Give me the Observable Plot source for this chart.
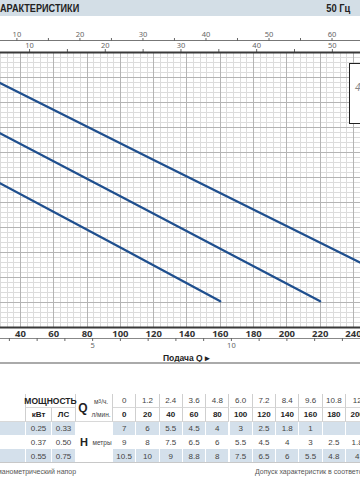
<!DOCTYPE html>
<html><head><meta charset="utf-8">
<script src="https://cdn.jsdelivr.net/npm/d3@7"></script>
<script src="https://cdn.jsdelivr.net/npm/@observablehq/plot@0.6"></script>
<style>
html,body{margin:0;padding:0;background:#fff;}
#page{position:relative;width:360px;height:480px;overflow:hidden;font-family:"Liberation Sans",Arial,sans-serif;color:#333;}
.a{position:absolute;white-space:nowrap;}
.cell{position:absolute;box-sizing:border-box;display:flex;align-items:center;justify-content:center;font-size:8px;color:#444;white-space:nowrap;}
svg{overflow:hidden;}
</style></head>
<body><div id="page">
  <div class="a" style="left:0;top:0;width:360px;height:16px;background:#d3dee6;"></div>
  <div class="a" style="left:0;top:2px;font-size:11px;font-weight:bold;color:#222;transform:scaleX(0.83);transform-origin:left top;">АРАКТЕРИСТИКИ</div>
  <div class="a" style="right:10px;top:2px;font-size:11px;font-weight:bold;color:#222;transform:scaleX(0.85);transform-origin:right top;">50 Гц</div>
  <div class="a" style="left:0;top:40px;width:360px;height:1px;background:#777;"></div>
  <div id="us" class="a" style="left:0;top:22px;"></div>
  <div id="imp" class="a" style="left:0;top:33px;"></div>
  <div id="main" class="a" style="left:0;top:44px;"></div>
  <div class="a" style="left:349px;top:63px;width:30px;height:59px;border:1px solid #222;background:#fff;"></div>
  <div class="a" style="left:355px;top:82px;font-size:10px;font-style:italic;color:#888;">4</div>
  <div class="a" style="left:0;top:338px;width:360px;height:1px;background:#888;"></div>
  <div id="m3h" class="a" style="left:0;top:336px;"></div>
  <div class="a" style="left:163px;top:353px;font-size:8.5px;font-weight:bold;color:#222;">Подача Q &#9656;</div>
  <div class="a" style="left:0;top:362px;width:360px;height:2px;background:#aaa;"></div>
  <div class="a" style="left:-3px;top:468px;font-size:7px;color:#555;">манометрический напор</div>
  <div class="a" style="left:255px;top:468px;font-size:7px;color:#555;">Допуск характеристик в соответствии с EN ISO 9906</div>
</div>
<script>
// unit conversions (litres per minute per unit)
const LPM_PER_USGPM = 3.785, LPM_PER_IMPGPM = 4.546, LPM_PER_M3H = 1000 / 60;
// visible flow span of the cropped chart (l/min)
const qVisible = [28.0, 244.2];
const hDomain = [0, 11];

// curves
const powerKW = ["0.25", "0.37", "0.55"];
const powerHP = ["0.33", "0.50", "0.75"];
const curveQ = [[0, 100, 160], [0, 100, 220], [0, 120, 250]];
const curveH = [[6.75, 3.2, 1.05], [8.73, 5.25, 1.05], [10.7, 6.7, 2.4]];

// axis tick labels
const lpmTicks = [40, 60, 80, 100, 120, 140, 160, 180, 200, 220, 240];
const usGpmTicks = [5, 10, 15, 20, 25, 30, 35, 40, 45, 50, 55, 60, 65];
const impGpmTicks = [5, 10, 15, 20, 25, 30, 35, 40, 45, 50, 55];
const m3hTicks = [1, 2, 3, 4, 5, 6, 7, 8, 9, 10, 11, 12, 13, 14];

// table
const tableM3h = ["0", "1.2", "2.4", "3.6", "4.8", "6.0", "7.2", "8.4", "9.6", "10.8", "12"];
const tableLpm = ["0", "20", "40", "60", "80", "100", "120", "140", "160", "180", "200"];
const tableH025 = ["7", "6", "5.5", "4.5", "4", "3", "2.5", "1.8", "1", "", ""];
const tableH037 = ["9", "8", "7.5", "6.5", "6", "5.5", "4.5", "4", "3", "2.5", "1.8"];
const tableH055 = ["10.5", "10", "9", "8.8", "8", "7.5", "6.5", "6", "5.5", "4.8", "4"];

const rows = powerKW.flatMap((kw, i) => curveQ[i].map((q, j) => ({kw, q, h: curveH[i][j]})));
const crisp = {shapeRendering: "crispEdges", clip: true};

const main = Plot.plot({
  width: 360, height: 297, marginTop: 8, marginBottom: 14, marginLeft: 0, marginRight: 0,
  style: {background: "none", overflow: "hidden"},
  x: {domain: qVisible},
  y: {domain: hDomain, axis: null},
  marks: [
    Plot.ruleX(d3.range(0, 260, 4), {stroke: "#dcdcdc", strokeWidth: 1, ...crisp}),
    Plot.ruleY(d3.range(0, 55, 1).map(i => i * 0.2), {stroke: "#dcdcdc", strokeWidth: 1, ...crisp}),
    Plot.ruleX(d3.range(0, 260, 20), {stroke: "#b4b4b4", strokeWidth: 1, ...crisp}),
    Plot.ruleY(d3.range(0, 11, 1), {stroke: "#b4b4b4", strokeWidth: 1, ...crisp}),
    Plot.line(rows, {x: "q", y: "h", z: "kw", stroke: "#1f4f8e", strokeWidth: 2.2, clip: true}),
    Plot.ruleY(hDomain, {stroke: "#3a3a3a", strokeWidth: 2}),
    Plot.axisX(lpmTicks, {anchor: "bottom", label: null, tickSize: 0, tickPadding: 3, fontSize: 9.5, fontWeight: "bold", color: "#333"})
  ]
});
document.getElementById("main").append(main);

function strip(id, ticks, factor, anchor, label) {
  const top = anchor === "top";
  const p = Plot.plot({
    width: 360, height: 20, marginTop: top ? 18 : 2, marginBottom: top ? 2 : 18, marginLeft: 0, marginRight: 0,
    style: {background: "none", overflow: "hidden"},
    x: {domain: qVisible.map(q => q / factor)},
    marks: [
      Plot.axisX(ticks, {anchor, label: null, tickSize: 3, tickPadding: 1, fontSize: 7.5, color: "#666",
        tickFormat: d => (d % label === 0 ? String(d) : "")})
    ]
  });
  document.getElementById(id).append(p);
}
strip("us", usGpmTicks, LPM_PER_USGPM, "top", 10);
strip("imp", impGpmTicks, LPM_PER_IMPGPM, "top", 10);
strip("m3h", m3hTicks, LPM_PER_M3H, "bottom", 5);

// table
const pageEl = document.getElementById("page");
const blue = "#d4e0eb";
function cell(x, y, w, h, text, style = "") {
  const d = document.createElement("div");
  d.className = "cell";
  d.style.cssText = `left:${x}px;top:${y}px;width:${w}px;height:${h}px;` + style;
  d.innerHTML = text;
  pageEl.appendChild(d);
}
const rowY = [394, 408, 421.7, 435.5, 449.2, 463];
const colW = 23.3, valX0 = 113;
const hdrBorder = "border-right:1px solid #cfcfcf;border-bottom:1px solid #d8d8d8;";
// header
cell(-30, rowY[0], 56, rowY[2] - rowY[0], "", hdrBorder);
cell(26, rowY[0], 50, rowY[1] - rowY[0], "МОЩНОСТЬ", hdrBorder + "font-weight:bold;font-size:8.5px;color:#222;");
cell(26, rowY[1], 26, rowY[2] - rowY[1], "кВт", hdrBorder + "font-weight:bold;color:#222;");
cell(52, rowY[1], 24, rowY[2] - rowY[1], "ЛС", hdrBorder + "font-weight:bold;color:#222;");
cell(76, rowY[0], 37, rowY[2] - rowY[0], "", hdrBorder);
cell(77, rowY[0] + 7, 12, 14, "Q", "font-weight:bold;font-size:12px;color:#222;");
cell(90, rowY[0], 22, rowY[1] - rowY[0], "м<sup style='font-size:5px'>3</sup>/ч.", "font-size:6.5px;");
cell(89, rowY[1], 24, rowY[2] - rowY[1], "л/мин.", "font-size:6.5px;");
tableM3h.forEach((t, i) => cell(valX0 + i * colW, rowY[0], colW, rowY[1] - rowY[0], t, hdrBorder));
tableLpm.forEach((t, i) => cell(valX0 + i * colW, rowY[1], colW, rowY[2] - rowY[1], t, hdrBorder + "font-weight:bold;color:#222;"));
// body
const bodyH = [tableH025, tableH037, tableH055];
bodyH.forEach((vals, r) => {
  const y = rowY[2 + r], h = rowY[3 + r] - y;
  const bg = r % 2 === 0 ? `background:${blue};` : "";
  const b = "border-right:1px solid #fff;" + bg;
  cell(-30, y, 56, h, "", b);
  cell(26, y, 26, h, powerKW[r], b);
  cell(52, y, 24, h, powerHP[r], b);
  vals.forEach((t, i) => cell(valX0 + i * colW, y, colW, h, t, b));
});
cell(76, rowY[2], 37, rowY[5] - rowY[2], "", "border-right:1px solid #fff;");
cell(78, rowY[3], 12, rowY[4] - rowY[3], "H", "font-weight:bold;font-size:11px;color:#222;");
cell(91, rowY[3], 22, rowY[4] - rowY[3], "метры", "font-size:6.5px;");
cell(-30, rowY[5] - 1, 420, 1, "", "background:#c8c8c8;");
</script>
</body></html>
